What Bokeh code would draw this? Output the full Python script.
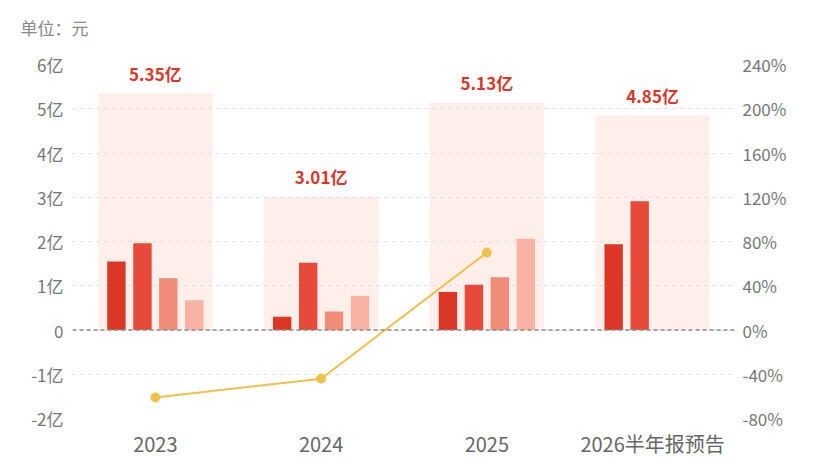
from bokeh.plotting import figure
from bokeh.models import (Range1d, LinearAxis, FixedTicker, PrintfTickFormatter,
                          Span, ColumnDataSource, Title)
from bokeh.core.properties import value
from bokeh.embed import file_html
from bokeh.resources import INLINE

# ---------------- data ----------------
categories = ["2023", "2024", "2025", "2026半年报预告"]
totals = [5.35, 3.01, 5.13, 4.85]              # 亿元, annual / half-year total
quarters = [                                    # 亿元, per-quarter net profit
    [1.55, 1.96, 1.17, 0.67],
    [0.30, 1.52, 0.42, 0.77],
    [0.86, 1.02, 1.19, 2.06],
    [1.94, 2.91],
]
growth_cats = ["2023", "2024", "2025"]
growth = [-61, -44, 70]                         # %, year-on-year change
left_ticks = [-2, -1, 0, 1, 2, 3, 4, 5, 6]
left_tick_labels = ["-2亿", "-1亿", "0", "1亿", "2亿", "3亿", "4亿", "5亿", "6亿"]
right_ticks = [-80, -40, 0, 40, 80, 120, 160, 200, 240]
unit_text = "单位：元"

# ---------------- style ----------------
FONT = "Noto Sans CJK SC"
bar_colors = ["#DC3626", "#E84A3A", "#F08C78", "#F9B2A4"]
bg_color = "#FEEFEA"
line_color = "#EFC14A"
offsets = [-0.235, -0.078, 0.078, 0.235]
bar_w = 0.111

p = figure(width=820, height=460, output_backend="svg", toolbar_location=None,
           x_range=Range1d(0, 4), y_range=Range1d(-2, 6),
           min_border_left=72, min_border_right=85,
           min_border_top=64, min_border_bottom=41)
p.outline_line_color = None
p.background_fill_color = "white"
p.border_fill_color = "white"
p.xgrid.visible = False

# spacer between frame and unit title
spacer = Title(text=" ", text_font_size="1px", standoff=20,
               text_color="white", text_line_height=1.0)
p.add_layout(spacer, "above")

# unit title
t = Title(text=unit_text, align="left", offset=-52, standoff=0,
          vertical_align="top",
          text_font=FONT, text_font_size="17px", text_font_style="normal",
          text_color="#888888", text_line_height=1.0)
p.add_layout(t, "above")

centers = [i + 0.5 for i in range(len(categories))]

# bottom axis (category names)
xa = p.xaxis[0]
xa.ticker = FixedTicker(ticks=centers)
xa.major_label_overrides = {c: s for c, s in zip(centers, categories)}
xa.axis_line_color = None
xa.major_tick_line_color = None
xa.minor_tick_line_color = None
xa.major_tick_out = 0
xa.major_tick_in = 0
xa.major_label_standoff = 10
xa.major_label_text_line_height = 1.0
xa.major_label_text_font = FONT
xa.major_label_text_font_size = "20px"
xa.major_label_text_color = "#666666"

# grid
p.ygrid.ticker = FixedTicker(ticks=left_ticks)
p.ygrid.grid_line_color = "#DDDDDD"
p.ygrid.grid_line_dash = "3 5"
p.ygrid.grid_line_width = 1

# left axis
ya = p.yaxis[0]
ya.ticker = FixedTicker(ticks=left_ticks)
ya.major_label_overrides = {t: s for t, s in zip(left_ticks, left_tick_labels)}
ya.axis_line_color = None
ya.major_tick_line_color = None
ya.minor_tick_line_color = None
ya.major_tick_out = 0
ya.major_tick_in = 0
ya.major_label_standoff = 9
ya.major_label_text_font = FONT
ya.major_label_text_font_size = "17px"
ya.major_label_text_color = "#777777"

# right axis
p.extra_y_ranges = {"pct": Range1d(-80, 240)}
ra = LinearAxis(y_range_name="pct", ticker=FixedTicker(ticks=right_ticks),
                formatter=PrintfTickFormatter(format="%d%%"))
ra.axis_line_color = None
ra.major_tick_line_color = None
ra.minor_tick_line_color = None
ra.major_tick_out = 0
ra.major_tick_in = 0
ra.major_label_standoff = 7
ra.major_label_text_font = FONT
ra.major_label_text_font_size = "17px"
ra.major_label_text_color = "#777777"
p.add_layout(ra, "right")

# background total rectangles
bg = p.vbar(x=centers, top=totals, bottom=0, width=0.69,
            fill_color=bg_color, line_color=None)
bg.level = "image"

# quarter bars
for qi in range(4):
    xs, tops = [], []
    for ci, qv in enumerate(quarters):
        if qi < len(qv):
            xs.append(centers[ci] + offsets[qi])
            tops.append(qv[qi])
    p.vbar(x=xs, top=tops, bottom=0, width=bar_w,
           fill_color=bar_colors[qi], line_color=None)

# total labels
src = ColumnDataSource(dict(x=centers, y=totals,
                            t=[f"{v:.2f}亿" for v in totals]))
p.text(x="x", y="y", text="t", source=src, y_offset=-20,
       text_align="center", text_baseline="middle",
       text_font=value(FONT), text_font_style="bold",
       text_font_size="17px", text_color="#D8382A")

# growth line
gx = [centers[categories.index(c)] for c in growth_cats]
p.line(gx, growth, y_range_name="pct", line_color=line_color, line_width=2)
p.scatter(gx, growth, y_range_name="pct", size=9, fill_color=line_color,
          line_color=line_color)

# zero line
p.add_layout(Span(location=0, dimension="width", line_color="#8A8A8A",
                  line_dash="4 3", line_width=1.3))

open("out.html", "w").write(file_html(p, INLINE))
